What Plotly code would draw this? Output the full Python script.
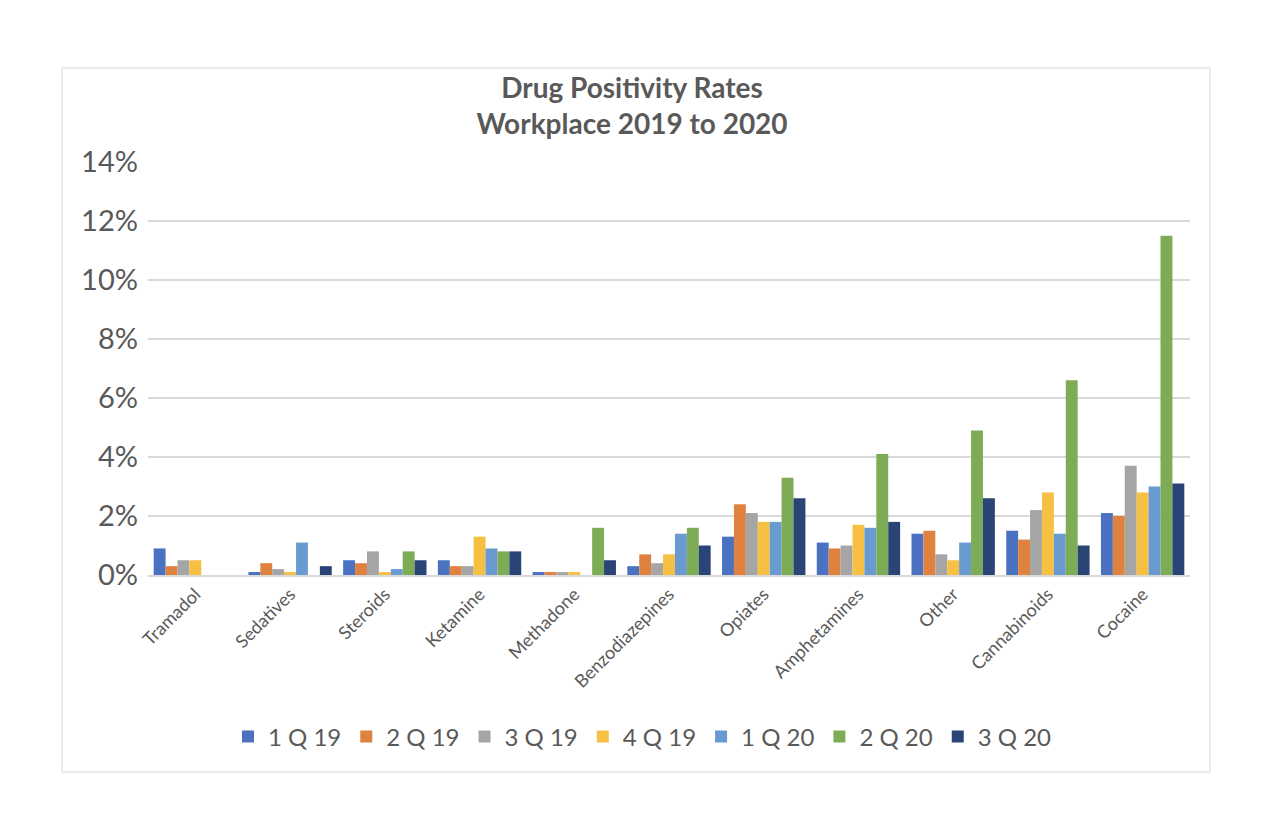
import plotly.graph_objects as go

categories = ["Tramadol", "Sedatives", "Steroids", "Ketamine", "Methadone", "Benzodiazepines",
              "Opiates", "Amphetamines", "Other", "Cannabinoids", "Cocaine"]
series_names = ["1 Q 19", "2 Q 19", "3 Q 19", "4 Q 19", "1 Q 20", "2 Q 20", "3 Q 20"]
q1_19 = [0.009, 0.001, 0.005, 0.005, 0.001, 0.003, 0.013, 0.011, 0.014, 0.015, 0.021]
q2_19 = [0.003, 0.004, 0.004, 0.003, 0.001, 0.007, 0.024, 0.009, 0.015, 0.012, 0.020]
q3_19 = [0.005, 0.002, 0.008, 0.003, 0.001, 0.004, 0.021, 0.010, 0.007, 0.022, 0.037]
q4_19 = [0.005, 0.001, 0.001, 0.013, 0.001, 0.007, 0.018, 0.017, 0.005, 0.028, 0.028]
q1_20 = [0.000, 0.011, 0.002, 0.009, 0.000, 0.014, 0.018, 0.016, 0.011, 0.014, 0.030]
q2_20 = [0.000, 0.000, 0.008, 0.008, 0.016, 0.016, 0.033, 0.041, 0.049, 0.066, 0.115]
q3_20 = [0.000, 0.003, 0.005, 0.008, 0.005, 0.010, 0.026, 0.018, 0.026, 0.010, 0.031]
colors = ["#4a72c0", "#e0823f", "#a5a5a5", "#f6c142", "#699bd1", "#7eab55", "#2a4476"]

all_series = [q1_19, q2_19, q3_19, q4_19, q1_20, q2_20, q3_20]

FONT = "Lato, Carlito, Calibri, sans-serif"
GREY = "#595959"

fig = go.Figure()
for name, vals, col in zip(series_names, all_series, colors):
    fig.add_trace(go.Bar(x=categories, y=vals, name=name, marker_color=col,
                         marker_line_width=0))

# page is rendered with an 8px body margin; work in figure coordinates
OFF = 8
W, H = 1276, 816
L, T = 148 - OFF, 162 - OFF
R = W - (1190 - OFF)
B = H - (575 - OFF)
pw, ph = W - L - R, H - T - B

def px_x(x):
    return (x - OFF - L) / pw

def px_y(y):
    return (H - B - (y - OFF)) / ph

fig.update_layout(
    width=W, height=H,
    margin=dict(l=L, r=R, t=T, b=B),
    paper_bgcolor="white", plot_bgcolor="white",
    barmode="group", bargap=0.12, bargroupgap=0,
    font=dict(family=FONT, color=GREY),
    title=dict(text="<b>Drug Positivity Rates<br>Workplace 2019 to 2020</b>",
               x=px_x(632), xref="paper", xanchor="center",
               y=1 - (98 - OFF) / H, yanchor="top",
               font=dict(size=28, color=GREY, family=FONT)),
    showlegend=True,
    legend=dict(orientation="h", x=px_x(228), xanchor="left", y=px_y(737), yanchor="middle",
                font=dict(size=24, color=GREY, family=FONT), traceorder="normal",
                itemwidth=30, itemsizing="constant", tracegroupgap=0),
    shapes=[dict(type="rect", xref="paper", yref="paper",
                 x0=px_x(62), x1=px_x(1210), y0=px_y(772), y1=px_y(68),
                 line=dict(color="#d9d9d9", width=1), fillcolor="rgba(0,0,0,0)",
                 layer="below")],
)
fig.update_yaxes(range=[0, 0.14], dtick=0.02, tickformat=".0%",
                 gridcolor="#d9d9d9", gridwidth=1.5, zeroline=False,
                 showline=False, ticks="",
                 tickfont=dict(size=29, color=GREY, family=FONT), ticklabelstandoff=9)
fig.update_xaxes(tickangle=-45, showline=True, linecolor="#d9d9d9", linewidth=1.5,
                 ticks="", tickfont=dict(size=18, color=GREY, family=FONT))

fig.write_html("out.html")
